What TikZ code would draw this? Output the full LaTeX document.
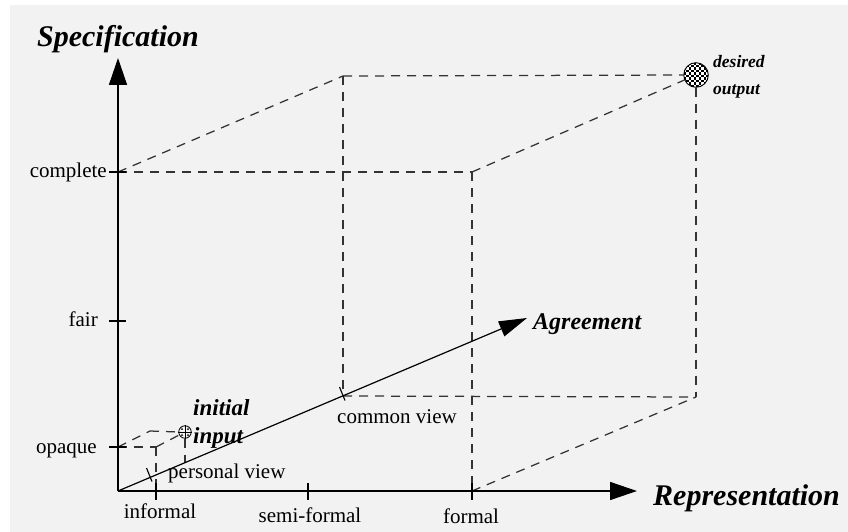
\documentclass[tikz,border=0pt]{standalone}
\usepackage{fontspec}
\setmainfont{Liberation Serif}
\usetikzlibrary{arrows.meta,calc}
\definecolor{paper}{HTML}{F2F2F2}
\begin{document}
\begin{tikzpicture}[x=1pt,y=-1pt,
  axis/.style={line width=1.5pt},
  edge/.style={line width=1.25pt, dash pattern=on 9pt off 7pt, black!80},
  tickmark/.style={line width=1.1pt},
  lbl/.style={font=\fontsize{21}{21}\selectfont, inner sep=0pt},
  axistitle/.style={font=\fontsize{30}{30}\selectfont\bfseries\itshape, inner sep=0pt},
  tag/.style={font=\fontsize{23}{23}\selectfont\bfseries\itshape, inner sep=0pt},
  smalltag/.style={font=\fontsize{17.5}{17.5}\selectfont\bfseries\itshape, inner sep=0pt},
  bigtip/.style={-{Triangle[length=27pt,width=18pt]}},
  midtip/.style={-{Triangle[length=28pt,width=16pt]}},
]
\useasboundingbox (0,0) rectangle (848,532);
\fill[white] (0,0) rectangle (848,532);
\fill[paper] (10,5) rectangle (848,532);

% axes and scale points
\coordinate (O) at (118,491);
\coordinate (ytip) at (118,58);
\coordinate (xtip) at (637,491);
\coordinate (yc) at (118,172);
\coordinate (yf) at (118,321);
\coordinate (yo) at (118,447);
\coordinate (xi) at (156,491);
\coordinate (xs) at (308,491);
\coordinate (xf) at (472,491);

% large box
\coordinate (FTR) at (472,172);
\coordinate (BTL) at (343,76);
\coordinate (BBL) at (343,396);
\coordinate (BBR) at (696,397);
\coordinate (agtip) at (527,318);

% small box
\coordinate (sFTR) at (156,447);
\coordinate (sBTL) at (150,431);
\coordinate (pv) at (185,463);
\coordinate (sv) at (150,477);

% marked states
\node[circle, minimum size=25pt, inner sep=0pt] (out) at (696,75) {};
\begin{scope}
  \clip (out.center) circle (12.3pt);
  \fill[white] (out.center) circle (12.3pt);
  \foreach \i in {-5,...,4}{
    \foreach \j in {-5,...,4}{
      \pgfmathtruncatemacro{\odd}{mod(\i+\j+12,2)}
      \ifnum\odd=0
        \fill ($(out.center)+(2.5*\i,2.5*\j)$) rectangle +(2.5,2.5);
      \fi
    }
  }
\end{scope}
\draw[line width=0.9pt] (out.center) circle (12.3pt);

\node[circle, draw, line width=0.8pt, minimum size=12.5pt, inner sep=0pt,
      fill=paper] (in) at (185,432) {};
\draw[line width=0.6pt] (in.north) -- (in.south) (in.west) -- (in.east);
\foreach \dx/\dy in {3/3,-3/3,3/-3,-3/-3}
  \fill ($(in.center)+(\dx,\dy)$) circle (1pt);

% dashed edges of the large box
\draw[edge] (yc) -- (FTR);
\draw[edge] (yc) -- (BTL);
\draw[edge] (BTL) -- (out.west);
\draw[edge] (FTR) -- (out);
\draw[edge] (FTR) -- (xf);
\draw[edge] (BTL) -- (BBL);
\draw[edge] (out.south) -- (BBR);
\draw[edge] (BBL) -- (BBR);
\draw[edge] (xf) -- (BBR);

% dashed edges of the small box
\draw[edge] (yo) -- (sFTR);
\draw[edge] (yo) -- (sBTL);
\draw[edge] (sBTL) -- (in.west);
\draw[edge] (sFTR) -- (in);
\draw[edge] (sFTR) -- (xi);
\draw[edge] (in.south) -- (pv);

% axes
\draw[axis, bigtip] (O) -- (ytip);
\draw[axis, bigtip] (O) -- (xtip);
\draw[line width=1.2pt, midtip] (O) -- (agtip);

% scale ticks
\foreach \p in {yc,yf,yo}
  \draw[tickmark] ($(\p)+(-9,0)$) -- ($(\p)+(8,0)$);
\foreach \p in {xi,xs,xf}
  \draw[tickmark] ($(\p)+(0,-8)$) -- ($(\p)+(0,9)$);
\foreach \p in {BBL,sv}
  \draw[tickmark] ($(\p)+(-3.5,-9)$) -- ($(\p)+(2,4.5)$);

% axis titles
\node[axistitle, anchor=base] (spec) at (118,47) {Specification};
\node[axistitle, anchor=base west] (repr) at (653,505) {Representation};
\node[tag, anchor=base west, font=\fontsize{24}{24}\selectfont\bfseries\itshape] (agr) at (533,329) {Agreement};

% state labels
\node[tag, anchor=base west] (ini1) at (193,415) {initial};
\node[tag, anchor=base west] (ini2) at (193,443) {input};
\node[smalltag, anchor=base west] (des1) at (713,68) {desired};
\node[smalltag, anchor=base west] (des2) at (713,95) {output};

% scale labels
\node[lbl, anchor=base east] (lc) at (107,177) {complete};
\node[lbl, anchor=base east] (lf) at (98,326) {fair};
\node[lbl, anchor=base east] (lo) at (97,453) {opaque};
\node[lbl, anchor=base] (li) at (160,518) {informal};
\node[lbl, anchor=base] (ls) at (310,522) {semi-formal};
\node[lbl, anchor=base] (lfo) at (471,523) {formal};
\node[lbl, anchor=base west] (lcv) at (337,423) {common view};
\node[lbl, anchor=base west] (lpv) at (168,478) {personal view};
\end{tikzpicture}
\end{document}
